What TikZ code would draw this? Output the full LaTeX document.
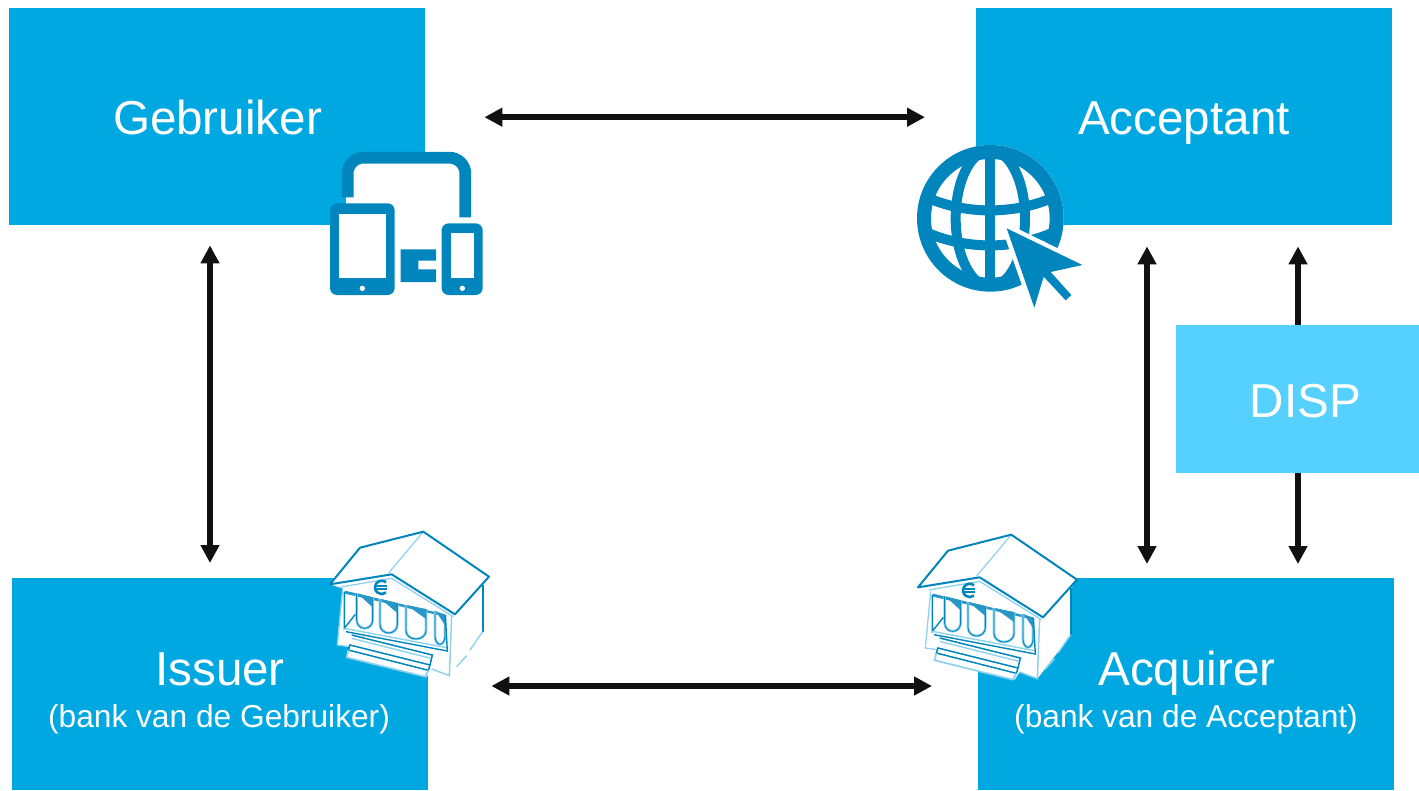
\documentclass[tikz,border=0pt]{standalone}
\usepackage{fontspec}
\setmainfont{Liberation Sans}
\usetikzlibrary{arrows.meta}
\definecolor{boxblue}{HTML}{00A8E1}
\definecolor{dispblue}{HTML}{55D0FF}
\definecolor{iconblue}{HTML}{0085BD}
\definecolor{lightline}{HTML}{8FD2EE}
\definecolor{arrowblack}{HTML}{111111}
\tikzset{
  bigbox/.style={fill=boxblue,inner sep=0pt,minimum width=416,minimum height=#1,anchor=north west},
  bigtext/.style={text=white,font=\fontsize{47.6}{48}\selectfont,inner sep=0pt,anchor=base},
  subtext/.style={text=white,font=\fontsize{31.7}{32}\selectfont,inner sep=0pt,anchor=base},
  biarrow/.style={draw=arrowblack,line width=6,{Triangle[length=18,width=18]}-{Triangle[length=18,width=18]}},
  onearrow/.style={draw=arrowblack,line width=6,-{Triangle[length=18,width=18]}},
  pics/bankicon/.style={code={
    \begin{scope}[x=1pt/3,y=-1pt/3]
      \fill[white] (30,178)--(120,68)--(310,20)--(507,155)--(490,180)--(490,320)--(388,452)--(335,432)--(320,455)--(80,397)--(88,365)--(52,360)--(68,190)--cycle;
      % entablature underside
      \fill[iconblue!85] (75,197)--(375,268)--(375,275)--(75,206)--cycle;
      % columns with shaded tops
      \foreach \xa/\xb/\ya/\yb in {110/158/205/310,180/232/222/324,258/318/240/342,345/375/258/358}{
        \draw[lightline,line width=2.6] (\xa,\ya)--(\xa,\yb-25) arc[start angle=180,end angle=0,x radius={(\xb-\xa)/2},y radius=25]--(\xb,\ya+12);
        \draw[iconblue,line width=0.9] (\xa,\ya)--(\xa,\yb-25) arc[start angle=180,end angle=0,x radius={(\xb-\xa)/2},y radius=25]--(\xb,\ya+12);
        \fill[iconblue!85] (\xa+2,\ya)--(\xb,\ya+12)--(\xb,\ya+42)--cycle;
      }
      % walls
      \draw[lightline,line width=1.3] (68,190)--(52,360)--(88,365);
      \draw[iconblue,line width=1.4] (73,200)--(73,310)--(106,268);
      \draw[lightline,line width=1.4] (73,310)--(380,368);
      \draw[iconblue,line width=1.4] (78,320)--(382,378)--(376,270);
      \draw[lightline,line width=1.5] (395,270)--(388,452)--(335,432);
      \draw[iconblue,line width=1.7] (488,180)--(488,320);
      \draw[lightline,line width=1.4] (410,425)--(440,392) (450,375)--(488,320);
      % steps
      \fill[white] (95,330)--(337,390)--(330,420)--(325,436)--(315,455)--(80,397)--(85,375)--(90,360)--cycle;
      \draw[iconblue,line width=1.5] (95,330)--(337,390)--(330,420);
      \draw[lightline,line width=1.4] (95,340)--(333,400);
      \draw[iconblue,line width=1.5] (90,360)--(330,420)--(325,436)--(85,375)--cycle;
      \draw[lightline,line width=1.7] (85,375)--(80,397)--(315,455)--(325,436);
      % roof
      \fill[white] (30,178)--(120,68)--(310,20)--(507,155)--(405,268)--(215,148)--cycle;
      \draw[lightline,line width=1.2] (310,20)--(205,145);
      \draw[iconblue,line width=2,line join=round] (30,178)--(120,68)--(310,20)--(507,155)--(405,268)--(215,148)--cycle;
      \draw[lightline,line width=1.3] (62,186)--(215,160)--(400,275);
      % euro sign
      \draw[iconblue,line width=2.6] (198,172) arc[start angle=-50,end angle=-310,radius=20];
      \draw[iconblue,line width=2] (166,182)--(202,182) (166,193)--(202,193);
    \end{scope}
  }}
}
\begin{document}
\begin{tikzpicture}[x=1pt,y=-1pt]
\useasboundingbox (0,0) rectangle (1419,790);
% boxes
\node[bigbox=217] (geb) at (9,8) {};
\node[bigbox=217] (acc) at (976,8) {};
\node[bigbox=212] (iss) at (12,578) {};
\node[bigbox=212] (acq) at (978,578) {};
\node[fill=dispblue,inner sep=0pt,minimum width=243,minimum height=148,anchor=north west] (disp) at (1176,325) {};
% connectors
\draw[biarrow,shorten <=59,shorten >=51] ([yshift=-0.5]geb.east) -- ([yshift=-0.5]acc.west);
\draw[biarrow,shorten <=63,shorten >=46] (iss.east |- 0,686) -- (acq.west |- 0,686);
\draw[biarrow,shorten <=20,shorten >=15] (geb.south -| 210,0) -- (iss.north -| 210,0);
\draw[biarrow,shorten <=21,shorten >=14] (acc.south -| 1147,0) -- (acq.north -| 1147,0);
\draw[onearrow] (disp.north -| 1298,0) -- ([yshift=-21]acc.south -| 1298,0);
\draw[onearrow] (disp.south -| 1298,0) -- ([yshift=14]acq.north -| 1298,0);
% device icon
\begin{scope}[shift={(320,140)},x=1pt/3,y=-1pt/3]
  \fill[white] (78,66) rectangle (436,262);
  \draw[iconblue,line width=11.7,rounded corners=16] (83,172)--(83,53)--(436,53)--(436,232);
  \fill[iconblue,rounded corners=7] (30,190) rectangle (224,465);
  \fill[white] (57,222) rectangle (197,415);
  \fill[white] (127,445) circle[radius=8];
  \fill[iconblue] (242,328)--(348,328)--(348,362)--(295,362)--(295,388)--(348,388)--(348,426)--(242,426)--cycle;
  \fill[iconblue,rounded corners=7] (365,250) rectangle (488,465);
  \fill[white] (392,280) rectangle (462,415);
  \fill[white] (427,445) circle[radius=8];
\end{scope}
% globe icon
\begin{scope}[shift={(905,135)},x=1pt/3,y=-1pt/3]
  \fill[white] (256,250) circle[radius=220];
  \draw[iconblue,line width=14] (256,250) circle[radius=199];
  \begin{scope}
    \clip (256,250) circle[radius=199];
    \draw[iconblue,line width=10] (255,40)--(255,460);
    \draw[iconblue,line width=10] (256,250) ellipse[x radius=104,y radius=205];
    \draw[iconblue,line width=10] (60,185) .. controls (180,240) and (330,240) .. (450,185);
    \draw[iconblue,line width=10] (60,290) .. controls (180,345) and (330,345) .. (450,290);
  \end{scope}
  \draw[white,fill=white,line width=9,line join=miter] (305,280)--(530,390)--(435,410)--(497,480)--(480,495)--(415,425)--(388,515)--cycle;
  \fill[iconblue] (305,280)--(532,390)--(437,411)--(499,480)--(482,496)--(416,425)--(388,518)--cycle;
\end{scope}
% bank icons
\pic at (320,525) {bankicon};
\pic at (908,528) {bankicon};
% labels
\node[bigtext] (tgeb) at (217.5,134.5) {Gebruiker};
\node[bigtext] (tacc) at (1184,134.5) {Acceptant};
\node[bigtext] (tiss) at (220,685) {Issuer};
\node[subtext] (siss) at (219,727) {(bank van de Gebruiker)};
\node[bigtext] (tacq) at (1187,685) {Acquirer};
\node[subtext] (sacq) at (1186,727) {(bank van de Acceptant)};
\node[bigtext] (tdisp) at (1305.5,417) {DISP};
\end{tikzpicture}
\end{document}
